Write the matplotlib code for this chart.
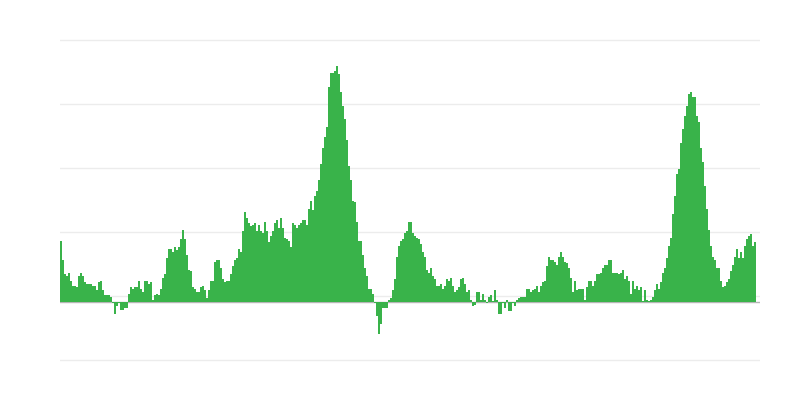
import numpy as np
import matplotlib
matplotlib.use("Agg")
import matplotlib.pyplot as plt

# monthly values (left to right)
werte = [
    3.8, 2.6, 1.7, 1.6, 1.8, 1.3, 1.0, 1.0, 0.9, 1.6,
    1.8, 1.6, 1.2, 1.1, 1.1, 1.1, 1.0, 1.0, 0.7, 1.2,
    1.3, 0.7, 0.4, 0.4, 0.4, 0.3, -0.1, -0.8, -0.3, -0.1,
    -0.5, -0.5, -0.4, -0.4, 0.5, 0.9, 0.8, 0.9, 0.9, 1.3,
    0.8, 0.6, 1.3, 1.3, 1.1, 1.2, 0.1, 0.4, 0.5, 0.4,
    0.8, 1.5, 1.7, 2.7, 3.3, 3.3, 3.1, 3.4, 3.2, 3.4,
    3.9, 4.5, 3.9, 2.9, 2.0, 1.9, 0.9, 0.8, 0.6, 0.6,
    0.9, 1.0, 0.7, 0.2, 0.7, 1.3, 1.3, 2.5, 2.6, 2.6,
    2.1, 1.4, 1.2, 1.3, 1.3, 1.7, 2.2, 2.6, 2.7, 3.3,
    3.1, 4.4, 5.6, 5.2, 4.9, 4.7, 4.8, 4.9, 4.4, 4.8,
    4.4, 4.3, 5.0, 4.4, 3.7, 4.1, 4.4, 4.9, 5.1, 4.6,
    5.2, 4.6, 4.0, 3.9, 3.8, 3.4, 4.9, 4.8, 4.6, 4.8,
    4.9, 5.1, 5.1, 4.8, 5.8, 6.3, 5.7, 6.6, 6.9, 7.6,
    8.6, 9.6, 10.3, 10.9, 13.4, 14.3, 14.3, 14.4, 14.7, 14.2,
    13.1, 12.2, 11.4, 10.1, 8.5, 7.6, 6.3, 6.2, 5.0, 3.8,
    3.8, 2.9, 2.1, 1.6, 0.8, 0.8, 0.5, -0.1, -0.9, -2.0,
    -1.4, -0.4, -0.4, -0.4, 0.1, 0.2, 0.7, 1.4, 2.8, 3.5,
    3.8, 3.9, 4.3, 4.4, 5.0, 5.0, 4.3, 4.1, 4.0, 3.9,
    3.6, 3.1, 2.8, 2.0, 1.8, 2.1, 1.6, 1.4, 1.0, 1.0,
    1.1, 0.8, 1.0, 1.4, 1.3, 1.5, 1.0, 0.6, 0.7, 0.9,
    1.4, 1.5, 1.1, 0.6, 0.7, 0.1, -0.3, -0.2, 0.6, 0.6,
    0.1, 0.5, 0.1, -0.1, 0.3, 0.4, 0.05, 0.7, 0.1, -0.8,
    -0.8, -0.1, -0.4, 0.1, -0.6, -0.6, -0.1, -0.3, 0.1, 0.2,
    0.3, 0.3, 0.3, 0.8, 0.8, 0.6, 0.7, 0.8, 1.0, 0.6,
    1.0, 1.2, 1.3, 2.2, 2.8, 2.6, 2.6, 2.5, 2.3, 2.8,
    3.1, 2.8, 2.5, 2.4, 2.1, 1.5, 0.6, 1.3, 0.7, 0.8,
    0.8, 0.8, 0.1, 0.9, 1.3, 1.3, 1.0, 1.3, 1.7, 1.7,
    1.8, 2.1, 2.3, 2.3, 2.6, 2.6, 1.8, 1.8, 1.8, 1.7,
    1.8, 2.0, 1.4, 1.6, 1.3, 0.5, 1.3, 0.8, 1.0, 0.7,
    0.9, 0.05, 0.7, 0.1, 0.05, 0.1, 0.3, 0.7, 1.1, 0.8,
    1.2, 1.8, 2.1, 2.7, 3.5, 4.0, 5.5, 6.6, 8.0, 8.3,
    9.9, 10.8, 11.6, 12.2, 13.0, 13.1, 12.8, 12.8, 11.6, 11.2,
    9.6, 8.7, 7.2, 5.8, 4.5, 3.5, 2.8, 2.6, 2.1, 2.1,
    1.3, 0.9, 1.0, 1.2, 1.4, 1.9, 2.3, 2.8, 3.3, 2.7,
    3.1, 2.7, 3.5, 3.9, 4.1, 4.2, 3.5, 3.7,
]
gitterlinien = [-3.656, 0.344, 4.344, 8.344, 12.344, 16.344]

grün = "#39b34a"

fig = plt.figure(figsize=(8, 4), dpi=100)
ax = fig.add_axes([0.075, 0.075, 0.875, 0.85])

x = np.arange(len(werte))
ax.axhline(0, color="#b5b5b5", linewidth=1, zorder=1)
ax.bar(x, werte, width=1.0, color=grün, linewidth=0, zorder=2)

ax.set_xlim(-0.5, 349.5)
ax.set_ylim(-4.28, 16.97)

ax.set_yticks(gitterlinien)
ax.yaxis.grid(True, color="#ececec", linewidth=1)
ax.set_axisbelow(True)
ax.tick_params(length=0, labelleft=False, labelbottom=False)
ax.set_xticks([])
for seite in ax.spines.values():
    seite.set_visible(False)

fig.savefig("out.png", dpi=100)
